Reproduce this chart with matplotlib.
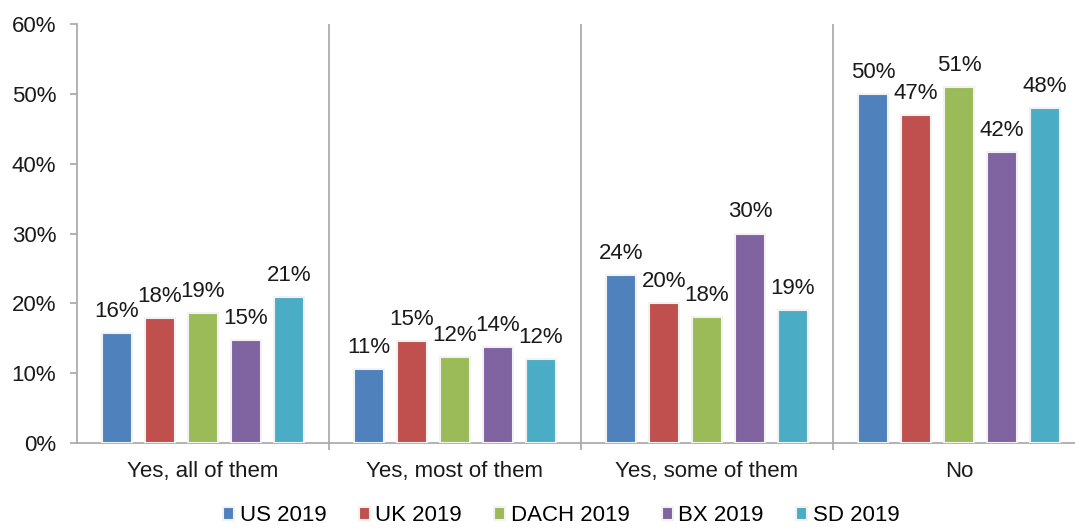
import numpy as np
import matplotlib
matplotlib.use('Agg')
import matplotlib.pyplot as plt
from matplotlib.ticker import PercentFormatter

plt.rcParams['font.family'] = ['Liberation Sans', 'DejaVu Sans']

categories = ['Yes, all of them', 'Yes, most of them', 'Yes, some of them', 'No']
series = ['US 2019', 'UK 2019', 'DACH 2019', 'BX 2019', 'SD 2019']
us = [15.7, 10.6, 24.0, 50.0]
uk = [17.9, 14.6, 20.0, 47.0]
dach = [18.6, 12.3, 18.0, 51.0]
bx = [14.7, 13.7, 30.0, 41.6]
sd = [20.9, 12.0, 19.0, 48.0]
colors = ['#4f81bd', '#c0504d', '#9bbb59', '#8064a2', '#4bacc6']

fig = plt.figure(figsize=(10.75, 5.29), dpi=100)
ax = fig.add_axes([77 / 1075, (529 - 443) / 529, 998 / 1075, (443 - 24) / 529])

x = np.arange(len(categories))
step, width = 0.1706, 0.122
for i, (name, vals, c) in enumerate(zip(series, [us, uk, dach, bx, sd], colors)):
    pos = x + (i - 2) * step
    bars = ax.bar(pos, vals, width, color=c, edgecolor='#f2f2f2', linewidth=1.5,
                  label=name, zorder=3)
    for b, v in zip(bars, vals):
        ax.annotate(f'{v:.0f}%', (b.get_x() + b.get_width() / 2, v),
                    xytext=(0, 8), textcoords='offset points',
                    ha='center', va='bottom', fontsize=16, color='#1a1a1a')

# group separators
for s in [0.5, 1.5, 2.5]:
    ax.axvline(s, color='#a6a6a6', linewidth=1.2, zorder=1)

ax.set_xlim(-0.5, -0.5 + 998 / 252)
ax.set_ylim(0, 60)
ax.yaxis.set_major_formatter(PercentFormatter(decimals=0))
ax.set_yticks(range(0, 61, 10))
ax.set_xticks(x)
ax.set_xticklabels(categories)
ax.set_xticks([0.5, 1.5, 2.5], minor=True)
ax.tick_params(axis='x', which='major', length=0, labelsize=16, pad=13, colors='#1a1a1a')
ax.tick_params(axis='x', which='minor', length=5, width=1.2, color='#a6a6a6')
ax.tick_params(axis='y', length=5, width=1.2, color='#a6a6a6', labelsize=16,
               labelcolor='#1a1a1a', pad=10)
for side in ['top', 'right']:
    ax.spines[side].set_visible(False)
for side in ['left', 'bottom']:
    ax.spines[side].set_color('#a6a6a6')
    ax.spines[side].set_linewidth(1.2)

fig.legend(loc='lower center', bbox_to_anchor=(0.522, -0.033), ncol=5, frameon=False,
           fontsize=16, handlelength=0.5, handleheight=0.5, handletextpad=0.25,
           columnspacing=1.45)

fig.savefig('out.png', dpi=100)
